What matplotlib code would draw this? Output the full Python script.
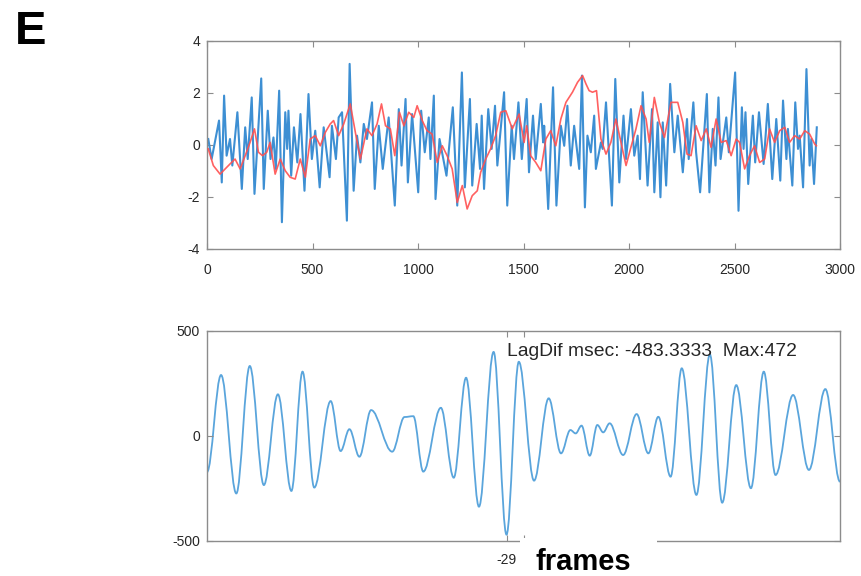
import matplotlib
matplotlib.use('Agg')
import matplotlib.pyplot as plt
from matplotlib.path import Path
from matplotlib.patches import PathPatch, Rectangle

plt.rcParams['font.family'] = ['Liberation Sans', 'DejaVu Sans']
plt.rcParams['axes.unicode_minus'] = False

# ---------------- data ----------------
blue_frames = [6, 22, 57, 70, 81, 93, 109, 120, 144, 165, 181, 193, 212, 225, 257, 269,
               288, 301, 315, 326, 342, 355, 371, 380, 386, 399, 412, 428, 443, 462, 481,
               497, 513, 534, 553, 581, 592, 611, 624, 640, 663, 676, 695, 711, 727, 743,
               758, 782, 795, 814, 833, 861, 890, 909, 922, 941, 952, 972, 1001, 1015,
               1032, 1051, 1059, 1075, 1083, 1102, 1135, 1165, 1186, 1208, 1222, 1246,
               1257, 1278, 1294, 1302, 1313, 1333, 1349, 1365, 1376, 1408, 1423, 1444,
               1455, 1476, 1492, 1515, 1526, 1545, 1558, 1582, 1593, 1598, 1617, 1640,
               1656, 1677, 1693, 1708, 1724, 1740, 1764, 1777, 1791, 1803, 1819, 1835,
               1843, 1867, 1875, 1891, 1919, 1935, 1954, 1974, 1986, 2009, 2025, 2041,
               2052, 2065, 2088, 2109, 2120, 2136, 2149, 2160, 2176, 2195, 2215, 2231,
               2255, 2275, 2283, 2305, 2318, 2337, 2369, 2381, 2397, 2410, 2424, 2434,
               2461, 2473, 2503, 2519, 2535, 2543, 2552, 2565, 2587, 2598, 2616, 2638,
               2658, 2679, 2698, 2717, 2730, 2746, 2753, 2774, 2788, 2801, 2809, 2825,
               2841, 2856, 2864, 2877, 2890]
blue_values = [0.23, -0.54, 0.94, -1.44, 1.90, -0.41, 0.23, -0.79, 1.26, -1.69, 0.68, -0.54,
               1.83, -1.88, 2.56, -1.69, 1.32, -0.54, 0.29, -0.92, 2.09, -2.97, 1.26, -0.15,
               1.32, -1.18, 0.68, -0.67, 1.19, -1.76, 1.96, -0.54, 0.55, -1.63, 0.68, -1.24,
               0.74, -0.54, 1.06, 1.26, -2.91, 3.12, -1.76, 0.36, -0.67, 0.81,
               0.23, 1.64, -1.69, 0.74, -0.92, 1.06, -2.33, 1.38, -0.79, 1.77, -1.44, 1.19,
               -1.82, 1.32, -0.28, 1.06, -0.54, 1.90, -2.08, 0.23, -1.18, 1.45, -2.33, 2.79,
               -1.63, 1.77, -1.56, 0.81, -0.92, 1.13, -1.69, 1.38, -0.15, 1.51, -0.79, 2.03,
               -2.33, 0.74, -0.54, 1.64, -0.54, 1.77, -1.05, 1.13, -0.54, 1.58, 0.10, 0.74,
               -2.46, 2.22, -2.33, 0.74, -0.03, 1.51, -0.79, 0.74, -0.92, 2.67, -2.40, 0.36,
               -0.28, 1.13, -0.92, 0.10, -0.15, 1.64, -2.33, 2.54, -1.44, 1.13, -0.54, 1.38,
               -0.41, 0.36, -1.31, 2.03, -1.56, 1.38, -1.82, 0.87, -2.01, 0.87, -1.56, 2.35,
               -0.28, 1.13, -1.05, 1.00, -0.54, 1.64, -0.28, -1.82, 1.96, -1.82, 0.62, -0.79,
               1.83, -0.54, 1.06, -0.28, 2.79, -2.53, 1.45, -0.15, 1.26, -1.50, 1.13, -0.67,
               1.26, -0.73, 1.58, -1.31, 1.00, -1.37, 1.71, -0.54, 0.62, -1.56, 1.64, -0.15,
               0.36, -1.63, 2.92, -0.79, 0.23, -1.50, 0.68]

red_frames = [6, 30, 62, 86, 109, 133, 157, 181, 204, 225, 244, 263, 283, 299, 323, 347,
              371, 394, 418, 442, 466, 489, 513, 537, 561, 584, 600, 624, 648, 679, 703,
              727, 758, 782, 806, 827, 846, 869, 890, 912, 933, 956, 980, 996, 1020, 1043,
              1067, 1091, 1115, 1138, 1162, 1186, 1210, 1233, 1257, 1281, 1297, 1321,
              1344, 1368, 1392, 1416, 1447, 1479, 1503, 1515, 1534, 1558, 1582, 1606,
              1629, 1653, 1677, 1701, 1732, 1756, 1780, 1796, 1811, 1827, 1846, 1867,
              1891, 1914, 1938, 1962, 1986, 2009, 2033, 2057, 2081, 2096, 2120, 2144,
              2168, 2199, 2231, 2255, 2275, 2294, 2318, 2342, 2366, 2389, 2413, 2437,
              2461, 2484, 2508, 2524, 2548, 2571, 2595, 2619, 2643, 2666, 2690, 2714,
              2738, 2761, 2785, 2809, 2833, 2856, 2880, 2888]
red_values = [-0.15, -0.79, -1.12, -0.92, -0.73, -0.54, -0.92, -0.41, 0.10, 0.62, -0.28,
              -0.41, -0.28, 0.10, -1.12, -0.54, -0.99, -1.24, -1.31, -0.54, -1.24, 0.23,
              0.36, -0.03, 0.49, 0.81, 0.94, 0.36, 0.81, 1.58, 0.49, -0.54, 0.62, 0.36,
              0.81, 1.58, 0.74, 0.62, -0.41, 1.26, 0.74, 1.26, 1.06, 1.51, 0.94, 0.55,
              0.42, -0.67, -0.03, -0.41, -0.92, -2.21, -1.56, -2.46, -1.95, -1.76, -1.05,
              -0.54, -0.15, 0.36, 1.26, 1.32, 0.62, 1.19, 0.10, 0.74, -0.41, -0.67, -0.99,
              0.23, 0.55, -0.03, 1.00, 1.64, 2.03, 2.41, 2.67, 2.35, 2.09, 2.03, 2.09,
              0.23, -0.35, 0.10, 1.00, 0.10, -0.79, -0.09, 0.62, 1.51, 1.00, 0.10, 1.83,
              0.87, 0.29, 1.64, 1.64, 0.87, -0.35, -0.41, 0.74, 0.17, 0.62, -0.09, 1.00,
              0.10, 0.17, -0.41, 0.23, 0.10, -0.92, -0.41, -0.03, -0.67, -0.54, 0.62,
              0.10, 0.55, 0.68, 0.10, 0.36, 0.23, 0.55, 0.42, 0.04, -0.03]

# cross-correlation: turning points of the curve (lag in frames, value)
xcorr_lags = [-540, -516, -490, -467, -443, -419, -396, -377, -357, -329, -312, -297,
              -280, -260, -224, -203, -188, -171, -141, -119, -98, -76, -51, -29, -8,
              18, 43, 64, 80, 89, 99, 113, 126, 136, 147, 170, 193, 213, 230, 251,
              270, 295, 318, 339, 363, 388, 410, 430, 460, 487, 515, 540]
xcorr_values = [-174, 288, -276, 331, -236, 196, -264, 304, -248, 164, -74, 30,
                -101, 121, -77, 88, 92, -172, 132, -201, 275, -339, 398, -472, 351,
                -215, 177, -85, 26, 10, 47, -96, 50, 15, 58, -93, 102, -85, 89, -196,
                320, -283, 386, -320, 240, -251, 304, -188, 193, -164, 221, -220]

best_lag = -29
lag_text = "LagDif msec: -483.3333  Max:472"
panel_label = "E"
x_label = "frames"

# ---------------- figure ----------------
W, H = 861, 576
fig = plt.figure(figsize=(W / 100, H / 100), dpi=100)

spine_col = '#8c8c8c'
text_col = '#262626'


def style(ax):
    for s in ax.spines.values():
        s.set_color(spine_col)
        s.set_linewidth(1.0)
    ax.tick_params(direction='in', top=True, right=True, length=4, width=0.8,
                   color=spine_col, labelcolor=text_col, labelsize=10)
    ax.tick_params(axis='x', pad=10)
    ax.tick_params(axis='y', pad=5)


ax1 = fig.add_axes([207 / W, 1 - 249 / H, (840 - 207) / W, (249 - 41) / H])
ax1.plot(blue_frames, blue_values, color='#3d8fd3', lw=1.5, zorder=2)
ax1.plot(red_frames, red_values, color='#ff5050', lw=1.2, alpha=0.9, zorder=3)
ax1.set_xlim(0, 3000)
ax1.set_ylim(-4, 4)
ax1.set_xticks(range(0, 3001, 500))
ax1.set_yticks([-4, -2, 0, 2, 4])
style(ax1)

ax2 = fig.add_axes([207 / W, 1 - 540.5 / H, 633 / W, (540.5 - 330.5) / H])
verts = [(xcorr_lags[0], xcorr_values[0])]
codes = [Path.MOVETO]
for x0, y0, x1, y1 in zip(xcorr_lags[:-1], xcorr_values[:-1], xcorr_lags[1:], xcorr_values[1:]):
    d = (x1 - x0) * 0.36
    verts += [(x0 + d, y0), (x1 - d, y1), (x1, y1)]
    codes += [Path.CURVE4] * 3
ax2.add_patch(PathPatch(Path(verts, codes), fill=False, edgecolor='#5aa5dc', lw=1.3))
ax2.set_xlim(-540, 540)
ax2.set_ylim(-500, 500)
ax2.set_xticks([best_lag, 0])
ax2.set_xticklabels([str(best_lag), ''])
ax2.set_yticks([-500, 0, 500])
style(ax2)
ax2.tick_params(axis='x', pad=9)
ax2.text(best_lag, 400, lag_text, ha='left', va='center', fontsize=13.9, color=text_col)

# white patch over part of the lower axis, with the bold axis word
fig.add_artist(Rectangle((520 / W, 0), (657 - 520) / W, 38 / H, transform=fig.transFigure,
                         facecolor='white', edgecolor='none', zorder=10))
fig.text(535 / W, 1 - 570 / H, x_label, fontsize=21, fontweight='bold', color='black',
         va='baseline', ha='left', zorder=11)
fig.text(15 / W, 1 - 44 / H, panel_label, fontsize=34, fontweight='bold', color='black',
         va='baseline', ha='left')

fig.savefig('out.png', dpi=100)
